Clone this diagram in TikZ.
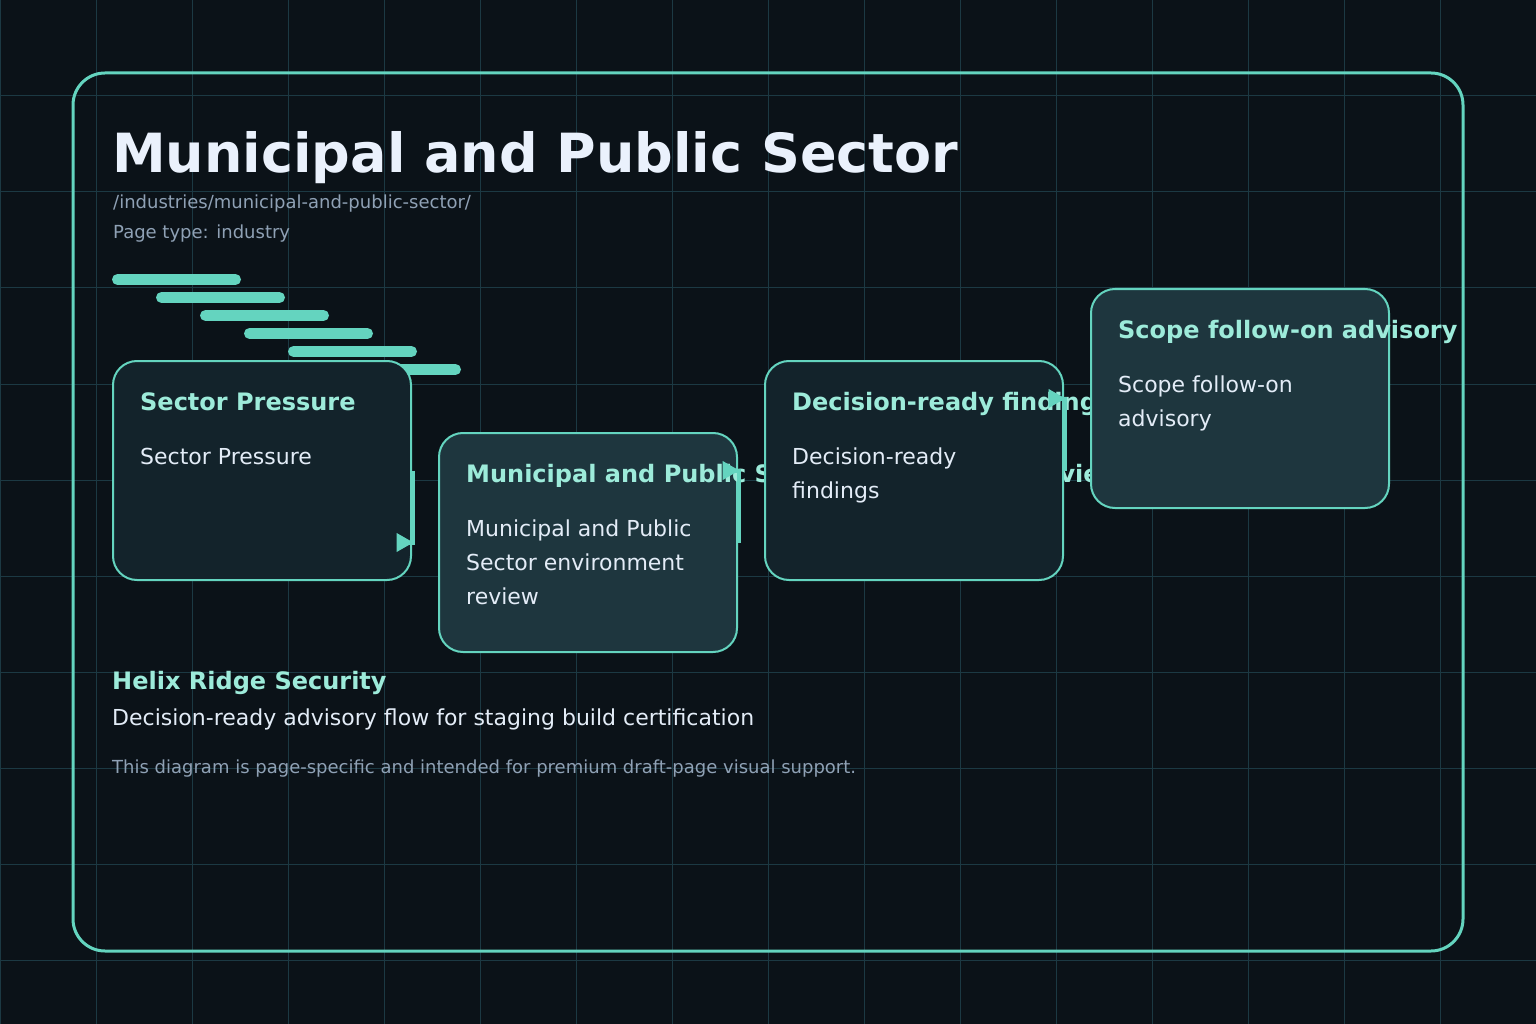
\documentclass[tikz,border=0pt]{standalone}
\usepackage{fontspec}
\setmainfont{DejaVu Sans}
\usepackage{xcolor}
\usetikzlibrary{arrows.meta, positioning}

\definecolor{pagebg}{HTML}{0B1218}
\definecolor{gridcol}{HTML}{1C3943}
\definecolor{accent}{HTML}{64D4BF}
\definecolor{headcol}{HTML}{EAF1FC}
\definecolor{mutedcol}{HTML}{8FA1B5}
\definecolor{cardhead}{HTML}{9DEBDA}
\definecolor{cardbody}{HTML}{E3ECF7}
\definecolor{carddark}{HTML}{13232B}
\definecolor{cardlight}{HTML}{1E363E}

\begin{document}
\begin{tikzpicture}[
    x=1pt, y=-1pt,
    >={Triangle[length=17pt, width=18pt]},
    gridline/.style={draw=gridcol, line width=1pt},
    frame/.style={draw=accent, line width=3pt, rounded corners=32pt},
    bar/.style={draw=accent, line width=11pt, line cap=round},
    card/.style={draw=accent, line width=2pt, rounded corners=24pt,
                 minimum width=298pt, minimum height=219pt,
                 anchor=north west, inner sep=0pt, outer sep=0pt},
    cardtitle/.style={anchor=base west, inner sep=0pt, text=cardhead,
                      font=\fontsize{24}{28}\selectfont\bfseries},
    cardtext/.style={anchor=base west, inner sep=0pt, text=cardbody, align=left,
                     font=\fontsize{22}{34}\selectfont},
    link/.style={draw=accent, line width=4pt, ->},
]
  % background and grid
  \fill[pagebg] (0,0) rectangle (1536,1024);
  \useasboundingbox (0,0) rectangle (1536,1024);
  \foreach \x in {0,96,...,1536} \draw[gridline] (\x,0) -- (\x,1024);
  \foreach \y in {0,96,...,960} \draw[gridline] (0,\y) -- (1536,\y);
  \draw[frame] (73,73) rectangle (1463,951);

  % heading
  \node[anchor=base west, inner sep=0pt, text=headcol,
        font=\fontsize{54}{60}\selectfont\bfseries] (title) at (112,173)
        {Municipal and Public Sector};
  \node[anchor=base west, inner sep=0pt, text=mutedcol,
        font=\fontsize{18}{22}\selectfont] (slug) at (113,209)
        {/industries/municipal-and-public-sector/};
  \node[anchor=base west, inner sep=0pt, text=mutedcol,
        font=\fontsize{18}{22}\selectfont] (ptype) at (113,239)
        {Page type: industry};

  % stepped bars
  \foreach \i in {0,...,5}
    \draw[bar] ({117.5+44*\i},{279.5+18*\i}) -- ++(118,0);

  % cards (base of a wrapped text sits on its last line)
  \node[card, fill=carddark] (s1) at (113,361) {};
  \node[cardtitle] (s1t) at ([xshift=27pt, yshift=-49pt]s1.north west) {Sector Pressure};
  \node[cardtext] (s1b) at ([xshift=27pt, yshift=-103pt]s1.north west) {Sector Pressure};

  \node[card, fill=cardlight] (s2) at (439,433) {};
  \node[cardtitle] (s2t) at ([xshift=27pt, yshift=-49pt]s2.north west)
        {Municipal and Public Sector environment review};
  \node[cardtext] (s2b) at ([xshift=27pt, yshift=-171pt]s2.north west)
        {Municipal and Public\\Sector environment\\review};

  \node[card, fill=carddark] (s3) at (765,361) {};
  \node[cardtitle] (s3t) at ([xshift=27pt, yshift=-49pt]s3.north west) {Decision-ready findings};
  \node[cardtext] (s3b) at ([xshift=27pt, yshift=-137pt]s3.north west) {Decision-ready\\findings};

  \node[card, fill=cardlight] (s4) at (1091,289) {};
  \node[cardtitle] (s4t) at ([xshift=27pt, yshift=-49pt]s4.north west) {Scope follow-on advisory};
  \node[cardtext] (s4b) at ([xshift=27pt, yshift=-137pt]s4.north west) {Scope follow-on\\advisory};

  % connectors
  \draw[link] ([xshift=1.5pt]s1.east) -- ([xshift=1.5pt]s1.east |- s2.west) -- ++(1pt,0);
  \draw[link] ([xshift=1.5pt]s2.east) -- ([xshift=1.5pt]s2.east |- s3.west) -- ++(1pt,0);
  \draw[link] ([xshift=1.5pt]s3.east) -- ([xshift=1.5pt]s3.east |- s4.west) -- ++(1pt,0);

  % footer
  \node[anchor=base west, inner sep=0pt, text=cardhead,
        font=\fontsize{24}{28}\selectfont\bfseries] (brand) at (112,689)
        {Helix Ridge Security};
  \node[anchor=base west, inner sep=0pt, text=cardbody,
        font=\fontsize{22}{26}\selectfont] (tagline) at (112,725)
        {Decision-ready advisory flow for staging build certification};
  \node[anchor=base west, inner sep=0pt, text=mutedcol,
        font=\fontsize{18}{22}\selectfont] (note) at (112,773)
        {This diagram is page-specific and intended for premium draft-page visual support.};
\end{tikzpicture}
\end{document}
